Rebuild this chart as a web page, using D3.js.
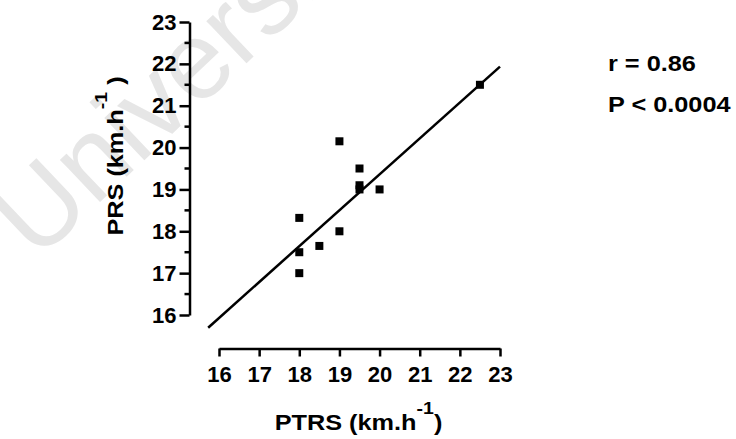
<!DOCTYPE html>
<html>
<head>
<meta charset="utf-8">
<script src="https://cdn.jsdelivr.net/npm/d3@7"></script>
<style>
  body { margin: 0; background: #fff; }
  svg { display: block; font-family: "Liberation Sans", Arial, sans-serif; }
</style>
</head>
<body>
<div id="chart"></div>
<script>
// values
var ptrs = [18, 18, 18, 18.5, 19, 19, 19.5, 19.5, 19.5, 20, 22.5];
var prs  = [18.32, 17.5, 17.0, 17.65, 18.0, 20.15, 19.5, 19.1, 19.0, 19.0, 21.5];
var xTicks = [16, 17, 18, 19, 20, 21, 22, 23];
var yTicks = [16, 17, 18, 19, 20, 21, 22, 23];
var fitSlope = 0.858, fitIntercept = 2.20;
var fitRange = [15.73, 23];
var statLines = ["r = 0.86", "P < 0.0004"];
var watermark = "University of Cape Town";

var width = 736, height = 439;
var fontSize = 22;
var stretch = 1.15;   // titles look wider than the plain font

var svg = d3.select("#chart").append("svg")
	.attr("width", width)
	.attr("height", height);

var x = d3.scaleLinear().domain([16, 23]).range([219, 500]);
var y = d3.scaleLinear().domain([16, 23]).range([315, 22]);

// watermark behind everything
svg.append("text")
	.attr("transform", "translate(37,262) rotate(-43.5)")
	.attr("font-size", 110)
	.attr("fill", "#e6e6e6")
	.text(watermark);

/* Y axis */
var yAxis = svg.append("g")
	.attr("transform", "translate(189.5,0)")
	.call(d3.axisLeft(y).tickValues(yTicks).tickSize(10).tickSizeOuter(0).tickPadding(3).tickFormat(d3.format("d")));

// minor ticks on half units
yAxis.selectAll(".minor").data(d3.range(16.5, 23, 1)).enter()
	.append("line")
	.attr("class", "minor")
	.attr("x1", -5).attr("x2", 0)
	.attr("y1", function(d){ return y(d); })
	.attr("y2", function(d){ return y(d); });

/* X axis */
var xAxis = svg.append("g")
	.attr("transform", "translate(0,348.5)")
	.call(d3.axisBottom(x).tickValues(xTicks).tickSize(8).tickSizeOuter(0).tickPadding(10).tickFormat(d3.format("d")));

svg.selectAll(".domain, .tick line, .minor")
	.attr("stroke", "#000")
	.attr("stroke-width", 2.5);
svg.selectAll(".tick text")
	.attr("font-family", "Liberation Sans, Arial, sans-serif")
	.attr("font-size", fontSize)
	.attr("font-weight", "bold")
	.attr("fill", "#000");

/* regression line */
svg.append("line")
	.attr("x1", x(fitRange[0]))
	.attr("y1", y(fitSlope * fitRange[0] + fitIntercept))
	.attr("x2", x(fitRange[1]))
	.attr("y2", y(fitSlope * fitRange[1] + fitIntercept))
	.attr("stroke", "#000")
	.attr("stroke-width", 2.5);

/* points */
var m = 8;
svg.selectAll(".pt").data(ptrs).enter()
	.append("rect")
	.attr("class", "pt")
	.attr("x", function(d){ return x(d) - m / 2; })
	.attr("y", function(d, i){ return y(prs[i]) - m / 2; })
	.attr("width", m)
	.attr("height", m)
	.attr("fill", "#000");

/* axis titles */
function unitTitle(sel, main, tail){
	sel.attr("text-anchor", "middle")
		.attr("font-size", fontSize)
		.attr("font-weight", "bold");
	sel.append("tspan").text(main);
	sel.append("tspan").attr("font-size", 17).attr("dy", -16).text("-1");
	sel.append("tspan").attr("dy", 16).text(tail);
}

svg.append("text")
	.attr("transform", "translate(358.5,430) scale(" + stretch + ",1)")
	.call(unitTitle, "PTRS (km.h", ")");

svg.append("text")
	.attr("transform", "translate(123,156) rotate(-90) scale(" + stretch + ",1)")
	.call(unitTitle, "PRS (km.h", " )");

/* stats */
svg.selectAll(".stat").data(statLines).enter()
	.append("text")
	.attr("class", "stat")
	.attr("transform", function(d, i){ return "translate(608," + (71 + i * 41) + ") scale(" + stretch + ",1)"; })
	.attr("font-size", fontSize)
	.attr("font-weight", "bold")
	.text(function(d){ return d; });
</script>
</body>
</html>
